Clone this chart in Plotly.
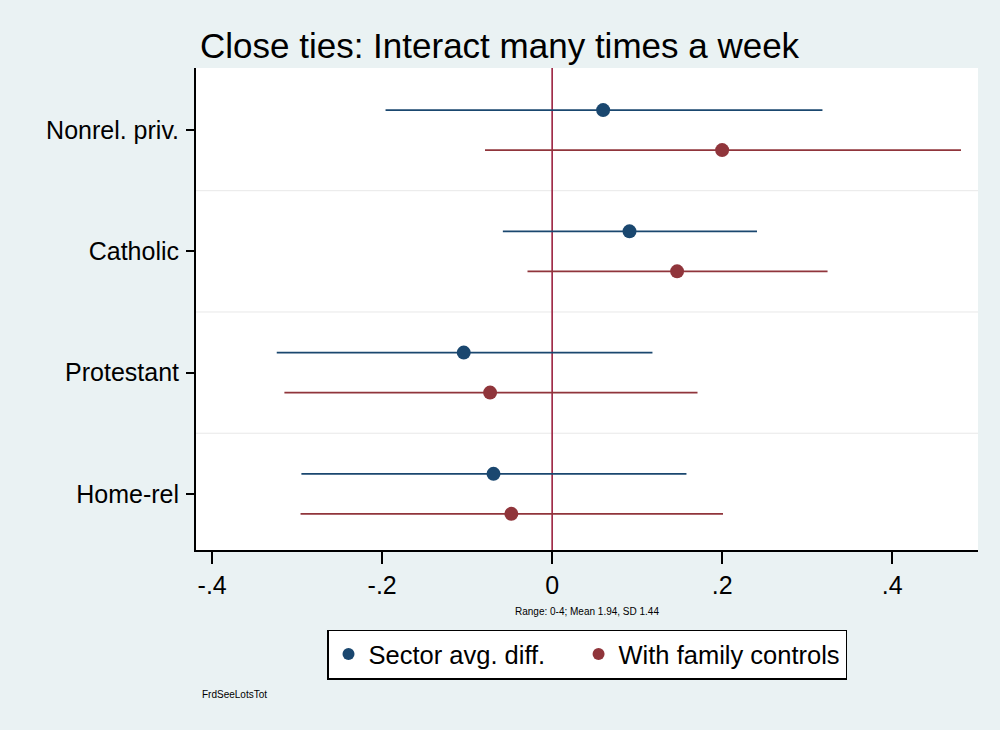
import plotly.graph_objects as go

categories = ["Nonrel. priv.", "Catholic", "Protestant", "Home-rel"]
series_names = ["Sector avg. diff.", "With family controls"]
sector_est = [0.060, 0.091, -0.104, -0.069]
sector_lo = [-0.196, -0.058, -0.324, -0.295]
sector_hi = [0.318, 0.241, 0.118, 0.158]
family_est = [0.200, 0.147, -0.073, -0.048]
family_lo = [-0.079, -0.029, -0.315, -0.296]
family_hi = [0.481, 0.324, 0.171, 0.201]
x_ticks = [-0.4, -0.2, 0, 0.2, 0.4]
x_ticklabels = ["-.4", "-.2", "0", ".2", ".4"]

BLUE = "#1a476f"
RED = "#90353b"
BG = "#eaf2f3"
FONT = "Liberation Sans, Arial, sans-serif"

pos = list(range(1, len(categories) + 1))
off = 0.165
pad = "\u00a0" * 4

fig = go.Figure()
for name, est, lo, hi, col, sgn in [
    (series_names[0] + pad, sector_est, sector_lo, sector_hi, BLUE, -1),
    (series_names[1], family_est, family_lo, family_hi, RED, 1),
]:
    fig.add_trace(go.Scatter(
        x=est, y=[p + sgn * off for p in pos], mode="markers", name=name,
        marker=dict(color=col, size=14, symbol="circle"),
        error_x=dict(type="data", symmetric=False,
                     array=[h - e for h, e in zip(hi, est)],
                     arrayminus=[e - l for e, l in zip(est, lo)],
                     color=col, thickness=1.6, width=0),
    ))

shapes = []
for g in [1.5, 2.5, 3.5]:
    shapes.append(dict(type="line", xref="paper", x0=0, x1=1, yref="y", y0=g, y1=g,
                       line=dict(color="#e8e8e8", width=1), layer="below"))
shapes.append(dict(type="line", xref="x", x0=0, x1=0, yref="paper", y0=0, y1=1,
                   line=dict(color="#9b2140", width=1.6), layer="below"))

fig.update_layout(
    width=1000, height=730,
    paper_bgcolor=BG, plot_bgcolor="white",
    margin=dict(l=196, r=22, t=68, b=180),
    font=dict(family=FONT, color="black"),
    title=dict(text="Close ties: Interact many times a week", x=0.2, xanchor="left",
               y=0.938, yanchor="middle", font=dict(size=35, family=FONT, color="black")),
    shapes=shapes,
    showlegend=True,
    legend=dict(orientation="h", x=0.5, xanchor="center", y=-0.165, yanchor="top",
                bgcolor="white", bordercolor="black", borderwidth=1.5,
                font=dict(size=25.5, family=FONT), itemsizing="constant",
                tracegroupgap=0),
    annotations=[dict(text="FrdSeeLotsTot", xref="paper", yref="paper", x=0.005, y=-0.30,
                      showarrow=False, xanchor="left", yanchor="middle",
                      font=dict(size=10, family=FONT))],
)

fig.update_xaxes(
    range=[-0.419, 0.501], tickvals=x_ticks, ticktext=x_ticklabels,
    showgrid=False, zeroline=False, showline=True, linecolor="black", linewidth=2,
    ticks="outside", ticklen=12, tickwidth=2, tickcolor="black",
    tickfont=dict(size=25, family=FONT),
    title=dict(text="Range: 0-4; Mean 1.94, SD 1.44", font=dict(size=10, family=FONT), standoff=10),
)
fig.update_yaxes(
    range=[4.463, 0.488], tickvals=pos, ticktext=categories,
    showgrid=False, zeroline=False, showline=True, linecolor="black", linewidth=2,
    ticks="outside", ticklen=8, tickwidth=2, tickcolor="black",
    tickfont=dict(size=25, family=FONT), ticklabelstandoff=2,
)

fig.write_html("out.html", config={"displayModeBar": False},
               post_script="document.body.style.margin='0';")
